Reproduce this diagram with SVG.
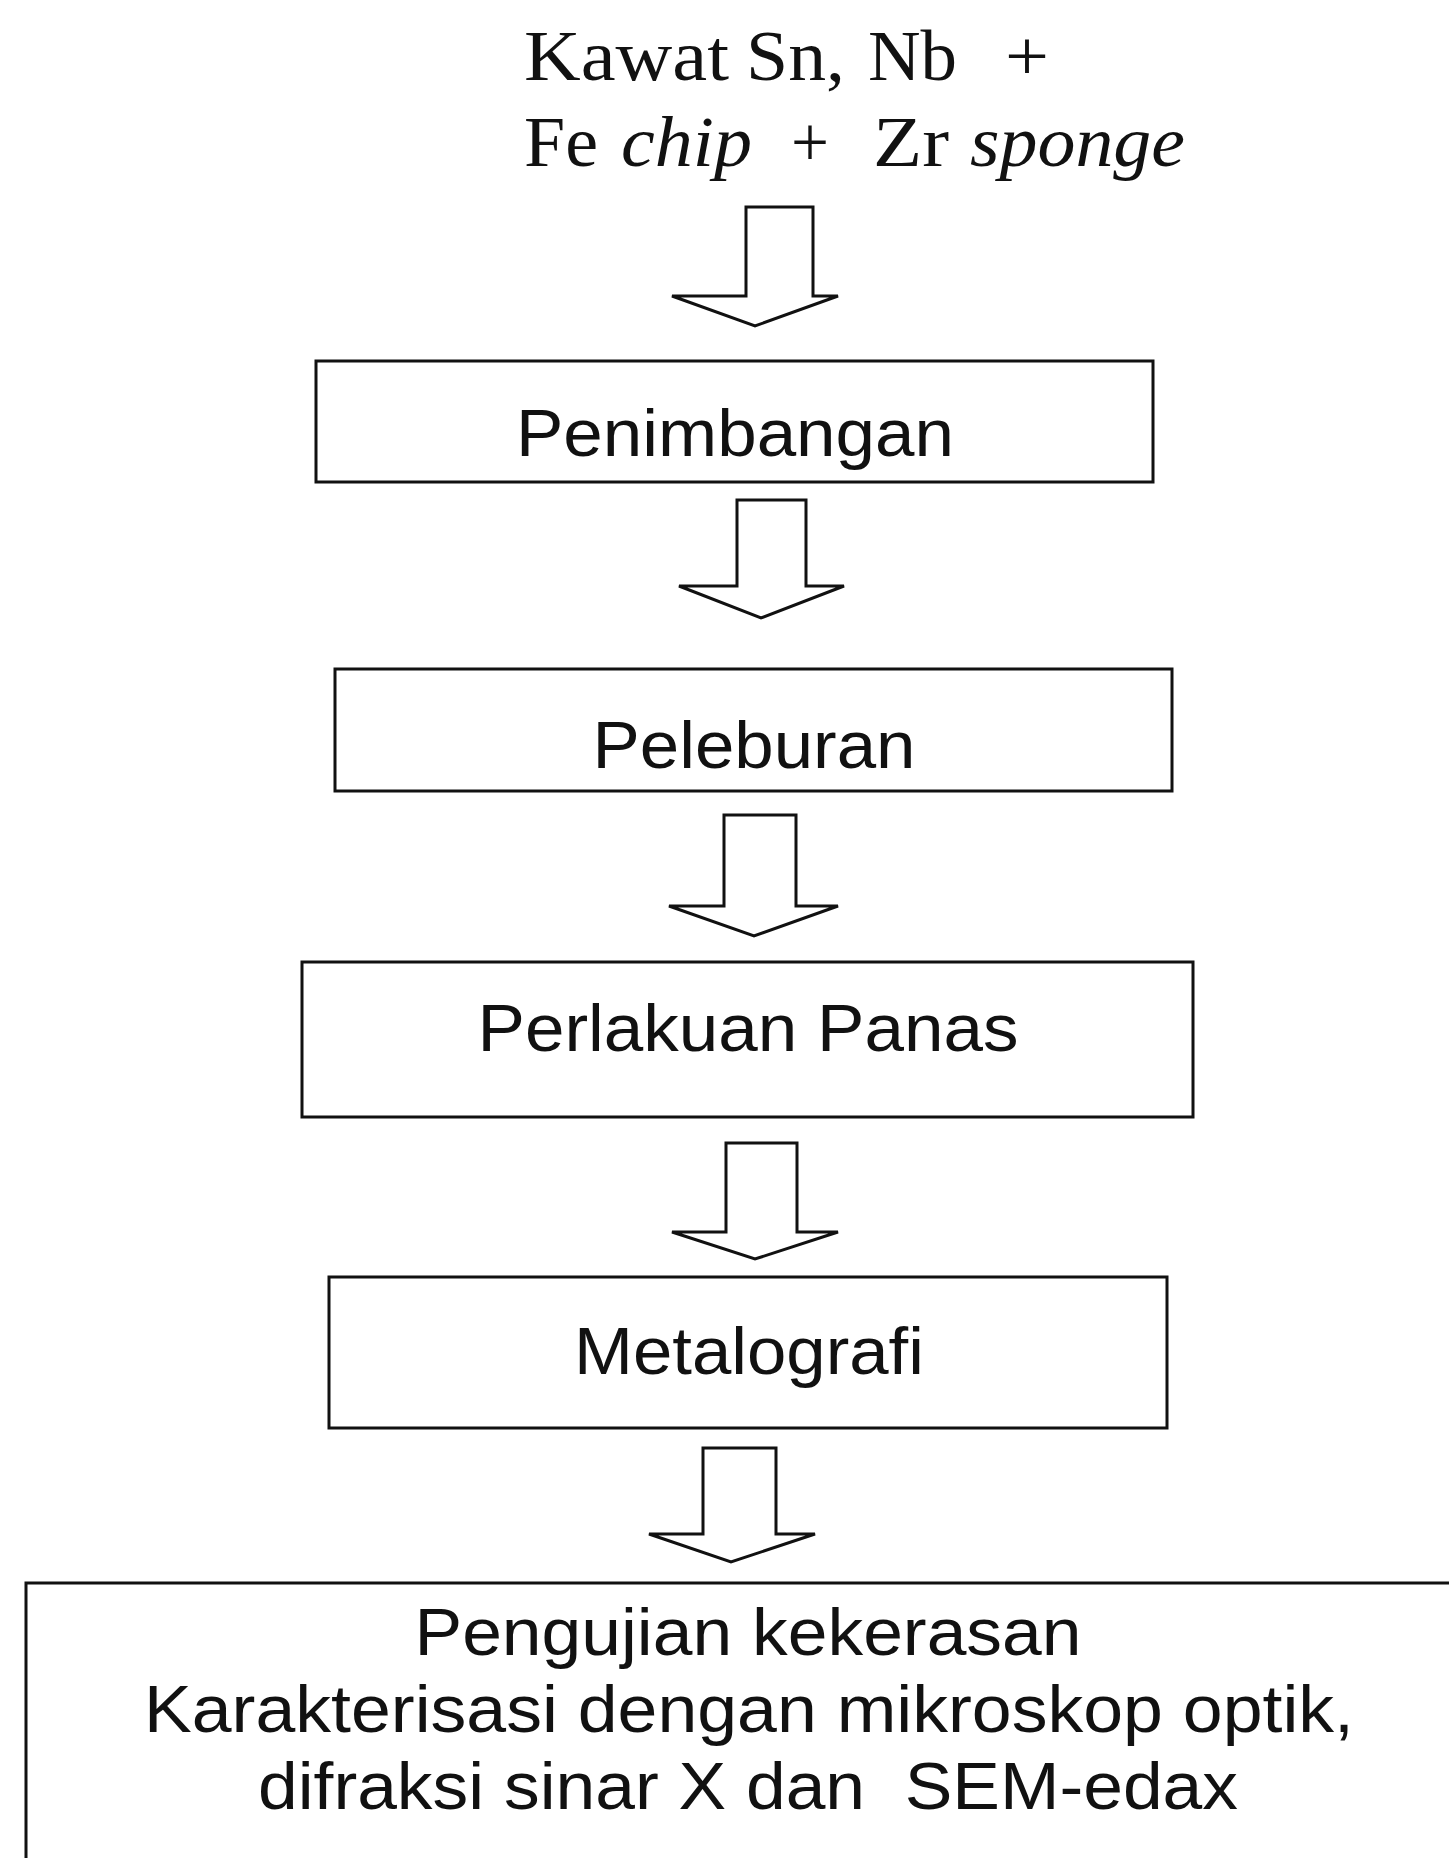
<svg xmlns="http://www.w3.org/2000/svg" width="1449" height="1858" viewBox="0 0 1449 1858">
<style>
.bg{fill:#ffffff}
.box{fill:#ffffff;stroke:#111111;stroke-width:3}
.arr{fill:#ffffff;stroke:#111111;stroke-width:3;stroke-linejoin:miter}
.lbl{font-family:"Liberation Sans",Arial,sans-serif;font-size:66px;fill:#111111;text-anchor:middle}
.top{font-family:"Liberation Serif","Times New Roman",serif;font-size:72px;fill:#111111}
.it{font-style:italic}
</style>
<rect class="bg" x="0" y="0" width="1449" height="1858"/>
<g id="start">
<text class="top" x="524" y="80" textLength="205" lengthAdjust="spacingAndGlyphs">Kawat</text>
<text class="top" x="746" y="80" textLength="99" lengthAdjust="spacingAndGlyphs">Sn,</text>
<text class="top" x="868" y="80" textLength="89" lengthAdjust="spacingAndGlyphs">Nb</text>
<text class="top" x="1005" y="80" textLength="44" lengthAdjust="spacingAndGlyphs">+</text>
<text class="top" x="524" y="166" textLength="74" lengthAdjust="spacingAndGlyphs">Fe</text>
<text class="top it" x="621" y="166" textLength="131" lengthAdjust="spacingAndGlyphs">chip</text>
<text class="top" x="791" y="166" textLength="38" lengthAdjust="spacingAndGlyphs">+</text>
<text class="top" x="873" y="166" textLength="76" lengthAdjust="spacingAndGlyphs">Zr</text>
<text class="top it" x="970" y="166" textLength="215" lengthAdjust="spacingAndGlyphs">sponge</text>
</g>
<g id="connectors">
<path class="arr" d="M746,207 H813 V296 H838 L755,326 L672,296 H746 Z"/>
<path class="arr" d="M737,500 H806 V586 H844 L761,618 L679,586 H737 Z"/>
<path class="arr" d="M724,815 H796 V906 H838 L754,936 L669,906 H724 Z"/>
<path class="arr" d="M726,1143 H797 V1232 H838 L755,1259 L672,1232 H726 Z"/>
<path class="arr" d="M703,1448 H776 V1534 H815 L731,1562 L649,1534 H703 Z"/>
</g>
<g id="penimbangan">
<rect class="box" x="316" y="361" width="837" height="121"/>
<text class="lbl" x="735" y="456" textLength="438" lengthAdjust="spacingAndGlyphs">Penimbangan</text>
</g>
<g id="peleburan">
<rect class="box" x="335" y="669" width="837" height="122"/>
<text class="lbl" x="754" y="768" textLength="323" lengthAdjust="spacingAndGlyphs">Peleburan</text>
</g>
<g id="perlakuan">
<rect class="box" x="302" y="962" width="891" height="155"/>
<text class="lbl" x="748" y="1051" textLength="541" lengthAdjust="spacingAndGlyphs">Perlakuan Panas</text>
</g>
<g id="metalografi">
<rect class="box" x="329" y="1277" width="838" height="151"/>
<text class="lbl" x="749" y="1374" textLength="350" lengthAdjust="spacingAndGlyphs">Metalografi</text>
</g>
<g id="pengujian">
<rect class="box" x="26" y="1583" width="1440" height="300"/>
<text class="lbl" x="748" y="1655" textLength="667" lengthAdjust="spacingAndGlyphs">Pengujian kekerasan</text>
<text class="lbl" x="749" y="1732" textLength="1210" lengthAdjust="spacingAndGlyphs">Karakterisasi dengan mikroskop optik,</text>
<text class="lbl" x="748" y="1809" textLength="980" lengthAdjust="spacingAndGlyphs" xml:space="preserve">difraksi sinar X dan  SEM-edax</text>
</g>
</svg>
